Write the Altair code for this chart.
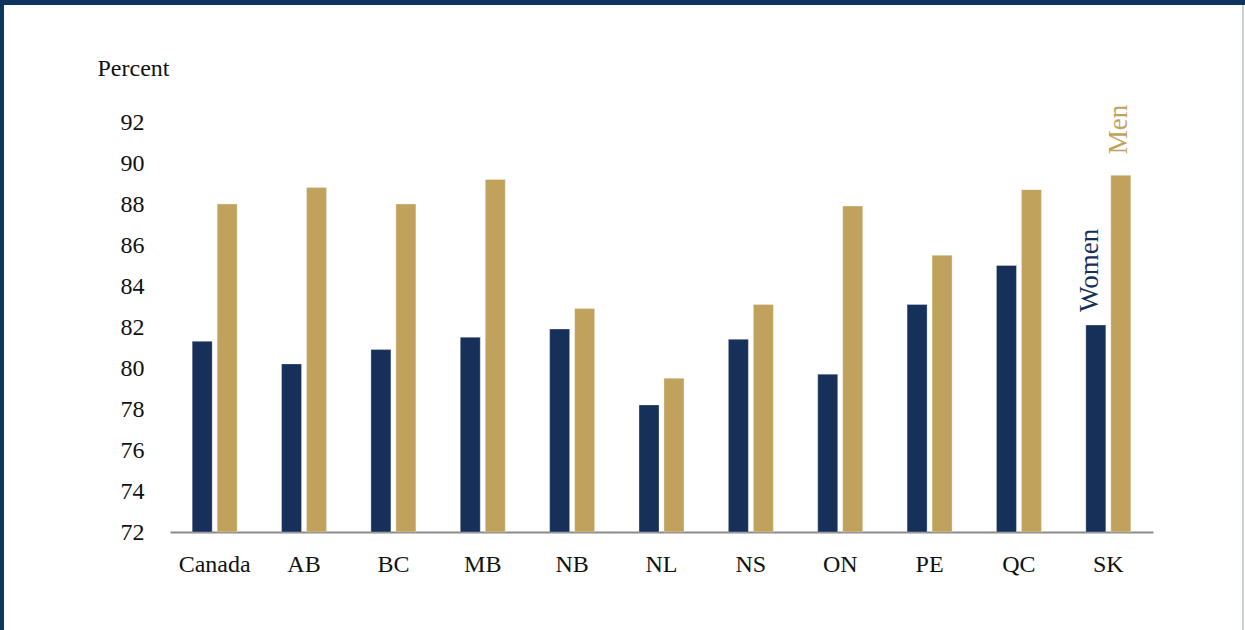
import altair as alt
import pandas as pd

regions = ["Canada", "AB", "BC", "MB", "NB", "NL", "NS", "ON", "PE", "QC", "SK"]
women = [81.3, 80.2, 80.9, 81.5, 81.9, 78.2, 81.4, 79.7, 83.1, 85.0, 82.1]
men = [88.0, 88.8, 88.0, 89.2, 82.9, 79.5, 83.1, 87.9, 85.5, 88.7, 89.4]
groups = ["Women", "Men"]
colors = ["#17305a", "#c0a25c"]
y_ticks = [72, 74, 76, 78, 80, 82, 84, 86, 88, 90, 92]

rows = []
for r, w, m in zip(regions, women, men):
    rows.append({"region": r, "group": "Women", "value": w})
    rows.append({"region": r, "group": "Men", "value": m})
df = pd.DataFrame(rows)

FONT = "Liberation Serif"
W, H = 983, 410
PL, PT, PR, PB = 170, 122, 92, 98

color_enc = alt.Color("group:N", sort=groups,
                      scale=alt.Scale(domain=groups, range=colors), legend=None)

x_enc = alt.X("region:N", sort=regions,
              scale=alt.Scale(paddingInner=0, paddingOuter=0),
              axis=alt.Axis(title=None, labelAngle=0, labelFont=FONT, labelFontSize=24,
                            labelColor="#111111", labelPadding=20, ticks=False,
                            domainColor="#8a8a8a", domainWidth=2))
y_enc = alt.Y("value:Q",
              scale=alt.Scale(domain=[72, 92], nice=False, zero=False),
              axis=alt.Axis(title="Percent", titleAngle=0, titleX=-73, titleY=-54,
                            titleAlign="left", titleBaseline="middle",
                            titleFont=FONT, titleFontSize=24, titleFontWeight="normal",
                            titleColor="#111111",
                            values=y_ticks, labelFont=FONT, labelFontSize=24,
                            labelColor="#111111", labelPadding=26, ticks=False,
                            domain=False, grid=False))

bars = alt.Chart(df).mark_bar(stroke="#ffffff", strokeWidth=0.6, strokeOpacity=0.5).encode(
    x=x_enc,
    y=y_enc,
    y2=alt.datum(72),
    xOffset=alt.XOffset("group:N", sort=groups,
                        scale=alt.Scale(paddingInner=0.2, paddingOuter=0.888)),
    color=color_enc,
)

def label_layer(group, dx, dy):
    sub = df[(df["region"] == "SK") & (df["group"] == group)]
    return alt.Chart(sub).mark_text(
        angle=270, align="left", baseline="middle", dx=dx, dy=dy, font=FONT, fontSize=27
    ).encode(
        x=alt.X("region:N", sort=regions),
        xOffset=alt.XOffset("group:N", sort=groups),
        y="value:Q",
        text="group:N",
        color=color_enc,
    )

lab_w = label_layer("Women", 13, -6)
lab_m = label_layer("Men", 21, -2)

frame_top = alt.Chart(df.head(1)).mark_rule(color="#0d355f", strokeWidth=5).encode(
    x=alt.value(-PL), x2=alt.value(W + PR), y=alt.value(-PT + 2.5))
frame_left = alt.Chart(df.head(1)).mark_rule(color="#0d355f", strokeWidth=4).encode(
    x=alt.value(-PL + 2), y=alt.value(-PT), y2=alt.value(H + PB))
frame_right = alt.Chart(df.head(1)).mark_rule(color="#b8c2cc", strokeWidth=1.5).encode(
    x=alt.value(W + PR - 2), y=alt.value(-PT + 5), y2=alt.value(H + PB))

chart = alt.layer(bars, lab_w, lab_m, frame_top, frame_left, frame_right).properties(
    width=W, height=H,
    autosize=alt.AutoSizeParams(type="none"),
    padding={"left": PL, "top": PT, "right": PR, "bottom": PB},
    background="#ffffff",
).configure_view(stroke=None).resolve_scale(color="shared")

chart.save("out.html", embed_options={"renderer": "svg", "actions": False})
